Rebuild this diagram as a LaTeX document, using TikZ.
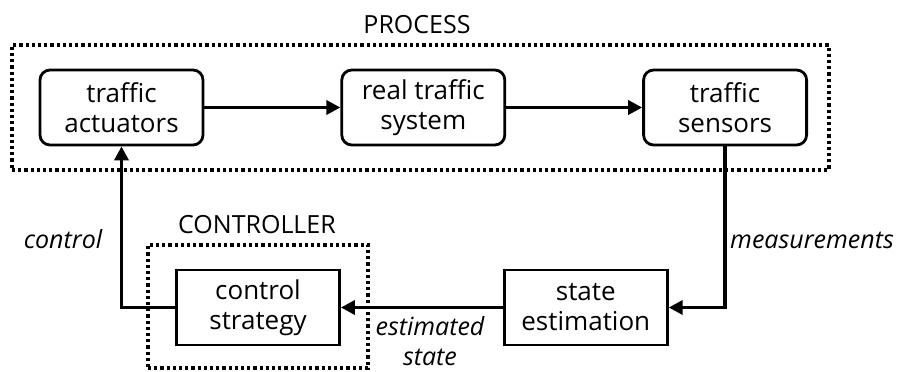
\documentclass[tikz,border=0pt]{standalone}
\usepackage{fontspec}
\setmainfont{Open Sans}
\usetikzlibrary{arrows.meta,positioning}

\begin{document}
\begin{tikzpicture}[x=1pt,y=-1pt,
	blk/.style={draw,line width=2.8pt,minimum width=163pt,minimum height=75pt,inner sep=0pt,align=center,font=\fontsize{26}{30}\selectfont},
	rblk/.style={blk,rounded corners=10pt},
	grp/.style={draw,line width=3.2pt,dash pattern=on 3.2pt off 3pt,inner sep=0pt},
	lnk/.style={line width=3.4pt,-{Triangle[length=14pt,width=14pt]}},
	lbl/.style={font=\fontsize{25}{30}\selectfont\itshape,align=center},
	ttl/.style={font=\fontsize{25}{30}\selectfont}]
	\useasboundingbox (0,0) rectangle (903,372);

	% process
	\node [grp,minimum width=817pt,minimum height=125pt] (proc) at (420.5,107.5) {};
	\node [ttl,anchor=base] (proct) at (417,33) {PROCESS};
	\node [rblk] (act) at (121.5,107.5) {traffic\\actuators};
	\foreach \n/\p/\t in {sys/act/{real traffic\\system}, sens/sys/{traffic\\sensors}}
	{
		\node [rblk,anchor=west] (\n) at ([xshift=136pt]\p.east) {\t};
	}

	% controller
	\node [grp,minimum width=220pt,minimum height=123pt] (ctrl) at (258,306.5) {};
	\node [ttl,anchor=base] (ctrlt) at (257,233) {CONTROLLER};
	\node [blk] (strat) at (258,307.5) {control\\strategy};
	\node [blk,anchor=west] (est) at ([xshift=162pt]strat.east) {state\\estimation};

	% links
	\draw [lnk] (act) -- (sys);
	\draw [lnk] (sys) -- (sens);
	\draw [lnk] (sens.south) |- (est.east);
	\draw [lnk] (est) -- (strat);
	\draw [lnk] (strat.west) -| (act.south);

	\node [lbl,anchor=base] (meas) at (812,248) {measurements};
	\node [lbl,anchor=base] (ctl) at (63,248) {control};
	\node [lbl] (estst) at (430,341) {estimated\\state};
\end{tikzpicture}
\end{document}
